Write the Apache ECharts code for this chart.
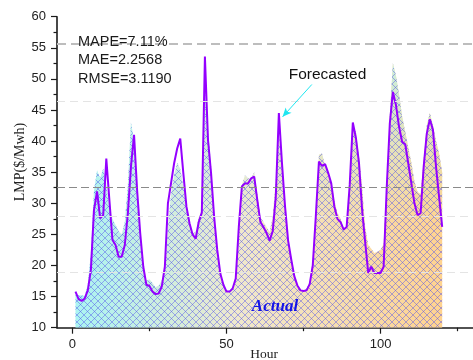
<!DOCTYPE html>
<html>
<head>
<meta charset="utf-8">
<script src="https://cdn.jsdelivr.net/npm/echarts@6/dist/echarts.min.js"></script>
<style>html,body{margin:0;padding:0;background:#fff}#c{width:473px;height:360px}</style>
</head>
<body>
<div id="c"></div>
<script>
// Forecasted LMP, hours 1..120
var forecast = [15.8,14.6,14.3,14.7,16.0,19.3,28.9,31.9,27.6,28.1,
37.2,30.5,24.1,23.3,21.4,21.4,23.3,28.4,35.9,41.0,
32.1,25.2,19.8,16.9,16.7,15.8,15.4,15.5,16.6,19.8,
30.0,33.2,36.4,38.8,40.4,34.8,29.5,26.8,25.0,24.3,
27.0,28.5,53.6,40.2,34.8,27.8,22.5,18.7,16.9,15.8,
15.8,16.3,17.9,26.2,32.7,33.2,33.2,34.0,34.3,30.5,
27.0,26.2,25.2,24.0,25.5,31.0,44.5,36.5,29.5,24.0,
21.0,18.3,16.8,16.0,15.9,16.0,17.0,20.0,28.0,36.7,
36.0,36.3,34.9,33.2,29.5,27.5,27.0,25.8,26.2,33.0,
43.0,40.5,36.5,29.0,23.8,18.8,19.8,18.8,18.8,18.8,
19.8,32.5,42.8,47.9,45.8,42.3,39.9,39.5,36.4,33.2,
30.0,28.1,28.4,35.9,41.2,43.5,41.8,35.9,31.0,26.2];
// Actual LMP, hours 1..120
var actual = [15.3,15.2,15.2,15.1,17.0,22.0,32.0,35.3,34.0,35.6,
33.0,29.0,27.5,26.5,25.5,25.0,27.0,33.0,43.0,40.0,
31.0,24.0,19.5,17.5,17.8,17.2,16.5,16.8,17.6,19.0,
26.0,31.5,34.5,36.5,35.5,32.7,29.5,26.5,25.2,25.4,
27.8,28.9,48.5,42.0,36.0,28.0,22.0,18.5,17.0,16.0,
15.8,16.3,18.0,26.0,33.0,34.5,34.0,34.0,35.0,31.5,
27.8,27.0,26.2,25.4,27.8,33.7,41.0,37.0,29.5,23.6,
21.4,18.7,16.9,16.1,16.0,16.3,17.4,20.9,28.4,37.8,
38.0,36.1,34.8,33.2,30.5,28.4,27.6,25.7,26.2,33.0,
42.0,41.5,37.5,32.7,26.2,23.3,22.7,22.0,22.2,22.5,
23.5,33.0,44.0,52.5,50.5,47.5,44.0,41.5,39.0,36.5,
33.5,31.8,31.5,37.0,42.5,44.5,42.5,40.0,38.0,35.0];
var xMajorTicks = [0, 50, 100];
var xMinorTicks = [25, 75, 125];
var refLinesStrong = [55.7, 32.6];
var refLinesFaint = [46.45, 27.85, 18.9];
var metrics = ['MAPE=7.11%', 'MAE=2.2568', 'RMSE=3.1190'];
var arrowFrom = [77.7, 49.1], arrowTo = [68.2, 43.9];

function pairs(arr){ return arr.map(function(v,i){ return [i+1, v]; }); }

// crosshatch pattern tile
var tile = document.createElement('canvas');
var S = 7; tile.width = S; tile.height = S;
var g = tile.getContext('2d');
g.strokeStyle = 'rgba(80,80,235,0.55)';
g.lineWidth = 0.85;
g.beginPath();
g.moveTo(-1,-1); g.lineTo(S+1,S+1);
g.moveTo(-1,S+1); g.lineTo(S+1,-1);
g.stroke();

var chart = echarts.init(document.getElementById('c'), null, {renderer:'canvas'});
var axisColor = '#1a1a1a';
var option = {
  animation: false,
  grid: {left: 57, top: 16.7, width: 417.7, height: 311, containLabel: false},
  xAxis: [{
    type: 'value', min: -5, max: 130,
    axisLine: {show: true, onZero: false, lineStyle: {color: axisColor, width: 1.6}},
    axisTick: {show: true, inside: false, length: 6, customValues: xMajorTicks, lineStyle: {color: axisColor, width: 1.2}},
    axisLabel: {show: true, customValues: xMajorTicks, color: '#222', fontFamily: 'Liberation Sans, Arial', fontSize: 13, margin: 10},
    splitLine: {show: false}
  },{
    type: 'value', min: -5, max: 130, position: 'bottom', offset: 0,
    axisLine: {show: false},
    axisTick: {show: true, inside: false, length: 3.5, customValues: xMinorTicks, lineStyle: {color: axisColor, width: 1.2}},
    axisLabel: {show: false},
    splitLine: {show: false}
  }],
  yAxis: {
    type: 'value', min: 10, max: 60, interval: 5,
    axisLine: {show: true, onZero: false, lineStyle: {color: axisColor, width: 1.6}},
    axisTick: {show: true, inside: false, length: 6, lineStyle: {color: axisColor, width: 1.2}},
    minorTick: {show: true, splitNumber: 2, length: 3.5, lineStyle: {color: axisColor, width: 1.2}},
    axisLabel: {color: '#222', fontFamily: 'Liberation Sans, Arial', fontSize: 13, margin: 11},
    splitLine: {show: false}
  },
  series: [
    {
      type: 'line', data: [], silent: true, z: 1,
      markLine: {
        silent: true, symbol: ['none','none'], label: {show: false},
        data: refLinesStrong.map(function(v,i){ return {yAxis: v, lineStyle: i===0 ? {color:'#bdbdbd', width: 2, type: [9,5]} : {color:'#8a8a8a', width: 1, type: [8,4]}}; })
          .concat(refLinesFaint.map(function(v){ return {yAxis: v, lineStyle: {color:'#e4e4e4', width: 1, type: [8,5]}}; }))
      }
    },
    {
      name: 'Actual', type: 'line', data: pairs(actual), symbol: 'none', z: 2,
      lineStyle: {width: 0},
      areaStyle: {origin: 'start', opacity: 1, color: {type:'linear', x:0, y:0, x2:1, y2:0, colorStops:[
        {offset:0, color:'#aaf4f2'}, {offset:0.45, color:'#f0e8cc'}, {offset:1, color:'#ffd38f'}]}}
    },
    {
      name: 'ActualTint', type: 'line', data: pairs(actual), symbol: 'none', z: 2,
      lineStyle: {width: 0},
      areaStyle: {origin: 'start', opacity: 1, color: {type:'linear', x:0, y:0, x2:0, y2:1, colorStops:[
        {offset:0, color:'rgba(185,245,240,0.75)'}, {offset:0.35, color:'rgba(185,245,240,0.3)'}, {offset:0.6, color:'rgba(185,245,240,0)'}]}}
    },
    {
      name: 'ActualHatch', type: 'line', data: pairs(actual), symbol: 'none', z: 3,
      lineStyle: {width: 0},
      areaStyle: {origin: 'start', opacity: 1, color: {image: tile, repeat: 'repeat'}}
    },
    {
      name: 'Forecasted', type: 'line', data: pairs(forecast), symbol: 'none', z: 4,
      lineStyle: {color: '#9400ff', width: 2},
      markLine: {
        silent: true, symbol: ['none','arrow'], symbolSize: [6,9], label: {show:false},
        lineStyle: {color: '#1ee6f0', width: 1, type: 'solid'},
        data: [[{coord: arrowFrom}, {coord: arrowTo}]]
      }
    }
  ],
  graphic: [
    {type:'text', left: 78, top: 33, z: 10, style:{text: metrics.join('\n'), fill:'#1a1a1a', font:'14.5px "Liberation Sans", Arial', lineHeight: 18.3}},
    {type:'text', x: 327.5, y: 75, z: 10, style:{text:'Forecasted', fill:'#111', font:'15.5px "Liberation Sans", Arial', align:'center', verticalAlign:'middle'}},
    {type:'text', x: 275, y: 306.5, z: 10, style:{text:'Actual', fill:'#1414e8', font:'italic bold 17px "Liberation Serif", "Times New Roman", serif', align:'center', verticalAlign:'middle'}},
    {type:'text', x: 264, y: 354, z: 10, style:{text:'Hour', fill:'#222', font:'13.5px "Liberation Serif", "Times New Roman", serif', align:'center', verticalAlign:'middle'}},
    {type:'text', x: 20, y: 162, rotation: Math.PI/2, z: 10, style:{text:'LMP($/Mwh)', fill:'#222', font:'14px "Liberation Serif", "Times New Roman", serif', align:'center', verticalAlign:'middle'}}
  ]
};
chart.setOption(option);
</script>
</body>
</html>
